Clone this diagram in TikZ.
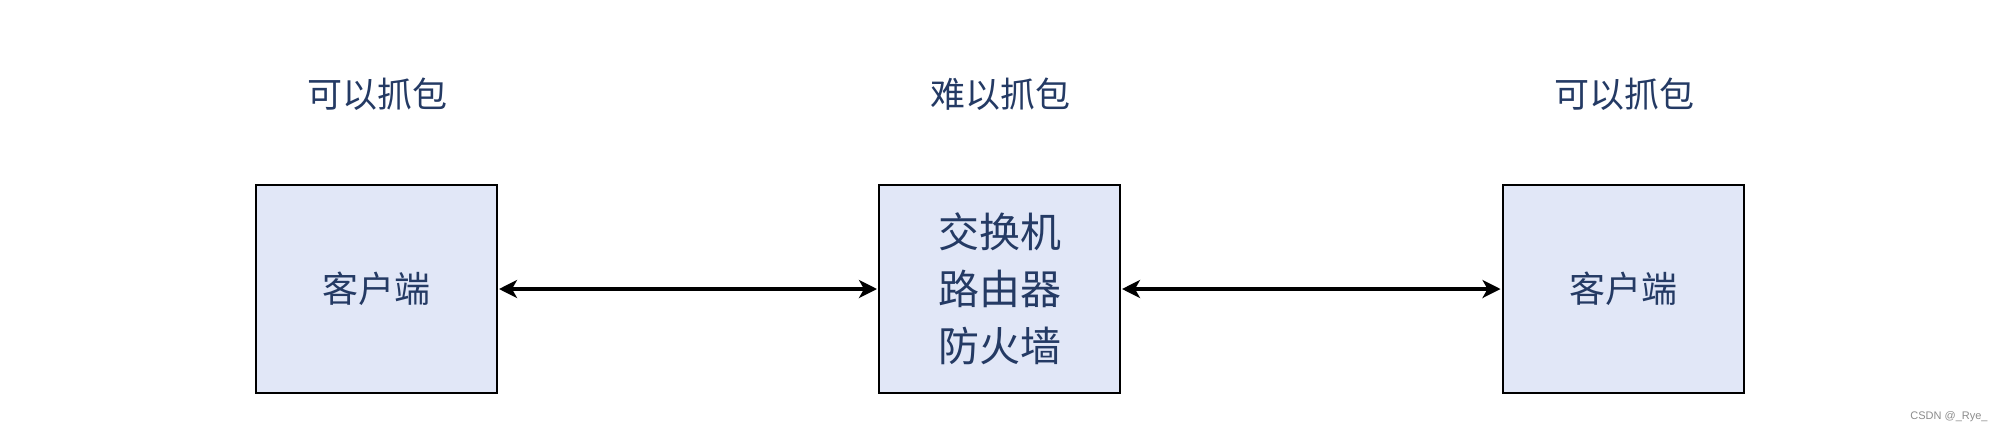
\documentclass[tikz,border=0pt]{standalone}
\usepackage{fontspec}
\newfontfamily\cjk{Noto Sans CJK SC}
\setmainfont{Liberation Sans}
\usetikzlibrary{arrows.meta}
\definecolor{txt}{HTML}{243A64}
\definecolor{boxfill}{HTML}{E1E7F7}
\tikzset{
  devbox/.style={draw=black, line width=1pt, fill=boxfill, minimum width=120.5pt, minimum height=104pt, inner sep=0pt, text=txt, align=center},
  toplabel/.style={text=txt, font=\cjk\fontsize{17.5pt}{21pt}\selectfont, inner sep=0pt},
  link/.style={line width=1.8pt, {Stealth[length=9pt,width=9pt,inset=2.5pt]}-{Stealth[length=9pt,width=9pt,inset=2.5pt]}, shorten <=0.5pt, shorten >=0.5pt}
}
\begin{document}
\begin{tikzpicture}[x=0.5pt,y=-0.5pt]
\useasboundingbox (0,0) rectangle (2000,434);
\node[devbox, font=\cjk\fontsize{18pt}{22pt}\selectfont] (c1) at (376.5,289) {客户端};
\node[devbox, font=\cjk\fontsize{20.5pt}{28.5pt}\selectfont] (mid) at (999.5,289) {交换机\\路由器\\防火墙};
\node[devbox, font=\cjk\fontsize{18pt}{22pt}\selectfont] (c2) at (1623,289) {客户端};
\node[toplabel] (l1) at (377,94) {可以抓包};
\node[toplabel] (l2) at (1000,94) {难以抓包};
\node[toplabel] (l3) at (1624,94) {可以抓包};
\draw[link] (c1.east) -- (mid.west);
\draw[link] (mid.east) -- (c2.west);
\node[text=black!45, font=\fontsize{5.5pt}{6.5pt}\selectfont, inner sep=0pt] (wm) at (1949,417) {CSDN @\_Rye\_};
\end{tikzpicture}
\end{document}
